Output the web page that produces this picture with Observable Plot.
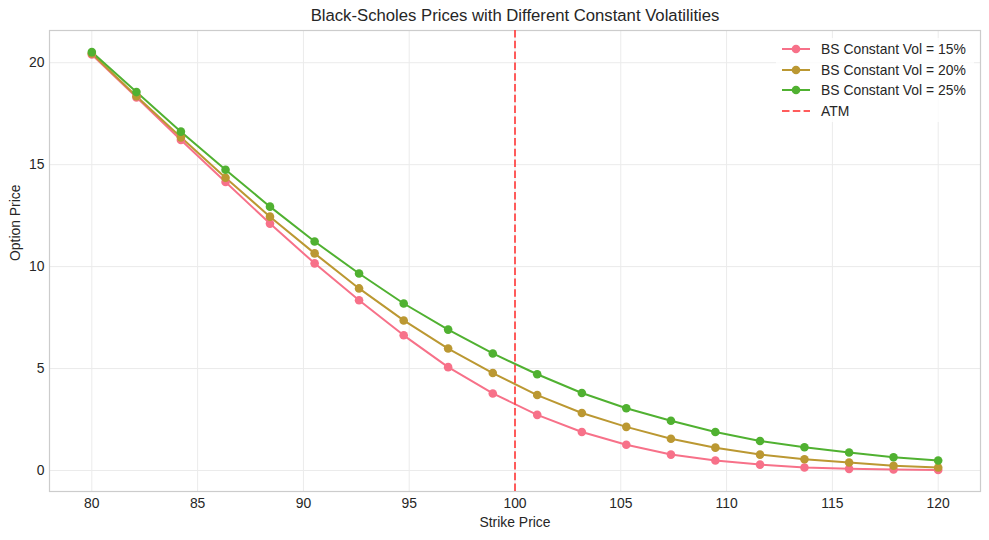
<!DOCTYPE html>
<html>
<head>
<meta charset="utf-8">
<script src="https://cdn.jsdelivr.net/npm/d3@7"></script>
<script src="https://cdn.jsdelivr.net/npm/@observablehq/plot@0.6"></script>
<style>
  html, body { margin: 0; padding: 0; background: #fff; }
  #wrap { position: relative; width: 989px; height: 540px; font-family: "Liberation Sans", Arial, sans-serif; }
  #legend { position: absolute; left: 776px; top: 38px; width: 198px; height: 84px; background: rgba(255,255,255,0.8); }
  .item { position: absolute; left: 0; height: 20px; display: flex; align-items: center; font-size: 13.9px; color: #262626; white-space: nowrap; }
  .item svg { margin-left: 6px; margin-right: 11px; }
</style>
</head>
<body>
<div id="wrap"></div>
<script>
const strikes = [80.00, 82.11, 84.21, 86.32, 88.42, 90.53, 92.63, 94.74, 96.84, 98.95,
                 101.05, 103.16, 105.26, 107.37, 109.47, 111.58, 113.68, 115.79, 117.89, 120.00];
const vol15 = [20.40, 18.30, 16.21, 14.15, 12.11, 10.16, 8.35, 6.63, 5.07, 3.78,
               2.73, 1.89, 1.26, 0.78, 0.49, 0.29, 0.15, 0.08, 0.05, 0.03];
const vol20 = [20.45, 18.36, 16.34, 14.36, 12.45, 10.65, 8.93, 7.36, 5.98, 4.78,
               3.70, 2.82, 2.14, 1.56, 1.12, 0.78, 0.55, 0.39, 0.23, 0.15];
const vol25 = [20.52, 18.56, 16.62, 14.75, 12.94, 11.23, 9.66, 8.19, 6.91, 5.74,
               4.72, 3.80, 3.05, 2.44, 1.89, 1.45, 1.14, 0.88, 0.65, 0.49];
const seriesNames = ["BS Constant Vol = 15%", "BS Constant Vol = 20%", "BS Constant Vol = 25%"];
const seriesColors = ["#f77189", "#bb9832", "#50b131"];
const atmStrike = [100];
const xTicks = [80, 85, 90, 95, 100, 105, 110, 115, 120];
const yTicks = [0, 5, 10, 15, 20];

const seriesValues = [vol15, vol20, vol25];
const rows = [];
seriesValues.forEach((vals, i) => vals.forEach((v, j) => rows.push({strike: strikes[j], price: v, series: seriesNames[i]})));

const font = "'Liberation Sans', Arial, sans-serif";
const chart = Plot.plot({
  width: 989, height: 540,
  marginLeft: 49, marginRight: 9, marginTop: 30, marginBottom: 49,
  style: {fontFamily: font, fontSize: "13.9px", color: "#262626", background: "#fff"},
  x: {domain: [78, 122]},
  y: {domain: [-1.03, 21.58]},
  color: {domain: seriesNames, range: seriesColors},
  marks: [
    Plot.gridX(xTicks, {stroke: "#ebebeb", strokeOpacity: 1, strokeWidth: 1}),
    Plot.gridY(yTicks, {stroke: "#ebebeb", strokeOpacity: 1, strokeWidth: 1}),
    Plot.frame({stroke: "#cccccc", strokeWidth: 1.2}),
    Plot.axisX(xTicks, {tickSize: 0, tickPadding: 7, label: null, fontSize: "13.9px", fill: "#262626"}),
    Plot.axisY(yTicks, {tickSize: 0, tickPadding: 5, label: null, fontSize: "13.9px", fill: "#262626"}),
    Plot.lineY(rows, {x: "strike", y: "price", z: "series", stroke: "series", strokeWidth: 2}),
    Plot.dot(rows, {x: "strike", y: "price", fill: "series", r: 4.3}),
    Plot.ruleX(atmStrike, {stroke: "#ff4040", strokeOpacity: 0.85, strokeWidth: 2, strokeDasharray: "7.5,3.3"}),
    Plot.text(["Black-Scholes Prices with Different Constant Volatilities"], {frameAnchor: "top", lineAnchor: "middle", dy: -15, fontSize: 16.7, fill: "#262626"}),
    Plot.text(["Strike Price"], {frameAnchor: "bottom", lineAnchor: "middle", dy: 31, fontSize: 13.9, fill: "#262626"}),
    Plot.text(["Option Price"], {frameAnchor: "left", lineAnchor: "middle", dx: -34, rotate: -90, fontSize: 13.9, fill: "#262626"})
  ]
});
const wrap = document.getElementById("wrap");
wrap.appendChild(chart);

const legend = document.createElement("div");
legend.id = "legend";
const items = seriesNames.map((n, i) => ({name: n, color: seriesColors[i], dash: false}));
items.push({name: "ATM", color: "#ff4040", dash: true});
items.forEach((it, i) => {
  const d = document.createElement("div");
  d.className = "item";
  d.style.top = (i * 20.7 + 1) + "px";
  const sw = it.dash
    ? `<svg width="28" height="12"><line x1="0" y1="6" x2="28" y2="6" stroke="${it.color}" stroke-opacity="0.85" stroke-width="2" stroke-dasharray="7.5,3.3"/></svg>`
    : `<svg width="28" height="12"><line x1="0" y1="6" x2="28" y2="6" stroke="${it.color}" stroke-width="2"/><circle cx="14" cy="6" r="4.3" fill="${it.color}"/></svg>`;
  d.innerHTML = sw + `<span>${it.name}</span>`;
  legend.appendChild(d);
});
wrap.appendChild(legend);
</script>
</body>
</html>
